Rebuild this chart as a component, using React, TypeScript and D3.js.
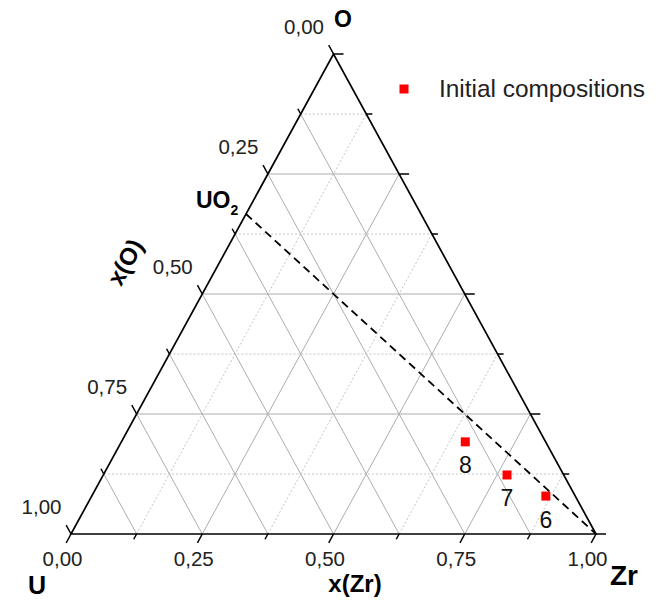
import React from "react";
import * as d3 from "d3";

// Ternary composition data (x(Zr), x(O)) for initial compositions
const pointLabels = ["6", "7", "8"];
const pointZr = [0.865, 0.769, 0.655];
const pointO = [0.079, 0.123, 0.192];

// Axis tick labels (as printed in the reference)
const tickValues = [0, 0.25, 0.5, 0.75, 1];
const bottomTickLabels = ["0,00", "0,25", "0,50", "0,75", "1,00"];
const leftTickLabels = ["1,00", "0,75", "0,50", "0,25", "0,00"]; // from U upward to O

// UO2 stoichiometric line: from (Zr=0, O=2/3) to Zr corner
const lineZr = [0, 1];
const lineO = [2 / 3, 0];

const W = 663;
const H = 600;

export default function App() {
  const xS = d3.scaleLinear().domain([0, 1]).range([71, 596]);
  const yS = d3.scaleLinear().domain([0, 1]).range([534, 54]);
  const px = (zr: number, o: number) => xS(zr + o / 2);
  const py = (o: number) => yS(o);

  const steps = d3.range(1, 8).map((k) => k / 8);
  const allSteps = d3.range(0, 9).map((k) => k / 8);

  const solid = { stroke: "#adadad", strokeWidth: 1, fill: "none" };
  const dotted = { stroke: "#c4c4c4", strokeWidth: 1, strokeDasharray: "2,2", fill: "none" };

  const grid: React.ReactNode[] = [];
  steps.forEach((t, i) => {
    const major = (i + 1) % 2 === 0;
    const st = major ? solid : dotted;
    // constant O
    grid.push(
      <line key={"o" + i} x1={px(0, t)} y1={py(t)} x2={px(1 - t, t)} y2={py(t)} {...st} />
    );
    // constant Zr
    grid.push(
      <line key={"z" + i} x1={px(t, 0)} y1={py(0)} x2={px(t, 1 - t)} y2={py(1 - t)} {...st} />
    );
    // constant U (all solid)
    grid.push(
      <line key={"u" + i} x1={px(1 - t, 0)} y1={py(0)} x2={px(0, 1 - t)} y2={py(1 - t)} {...solid} />
    );
  });

  // tick directions
  const ex = xS(0.5) - xS(0), ey = yS(0) - yS(1);
  const len = Math.hypot(ex, ey);
  const dBottom = [-ex / len, ey / len];
  const dLeft = [-ex / len, -ey / len];
  const dRight = [1, 0];

  const ticks: React.ReactNode[] = [];
  allSteps.forEach((t, i) => {
    const L = i % 2 === 0 ? 10 : 6;
    const bx = px(t, 0), by = py(0);
    ticks.push(<line key={"tb" + i} x1={bx} y1={by} x2={bx + dBottom[0] * L} y2={by + dBottom[1] * L} stroke="#000" strokeWidth={1.5} />);
    const lx = px(0, t), ly = py(t);
    ticks.push(<line key={"tl" + i} x1={lx} y1={ly} x2={lx + dLeft[0] * L} y2={ly + dLeft[1] * L} stroke="#000" strokeWidth={1.5} />);
    const rx = px(1 - t, t), ry = py(t);
    ticks.push(<line key={"tr" + i} x1={rx} y1={ry} x2={rx + dRight[0] * L} y2={ry + dRight[1] * L} stroke="#000" strokeWidth={1.5} />);
  });

  const tri = `M${px(0, 0)},${py(0)} L${px(1, 0)},${py(0)} L${px(0, 1)},${py(1)} Z`;
  const dashLine = d3.line<number>()
    .x((_, i) => px(lineZr[i], lineO[i]))
    .y((_, i) => py(lineO[i]))(lineZr);

  const font = "Arial, 'Liberation Sans', sans-serif";
  const angle = (-Math.atan2(ey, ex) * 180) / Math.PI;

  return (
    <svg width={W} height={H} style={{ position: "fixed", left: 0, top: 0, background: "#fff" }} fontFamily={font}>
      <rect x={0} y={0} width={W} height={H} fill="#fff" />
      {grid}
      <path d={dashLine || ""} fill="none" stroke="#000" strokeWidth={1.8} strokeDasharray="8,5" />
      <path d={tri} fill="none" stroke="#000" strokeWidth={1.7} strokeLinejoin="miter" />
      {ticks}
      {tickValues.map((t, i) => (
        <text key={"bl" + i} x={px(t, 0) - 8.5} y={py(0) + 32} textAnchor="middle" fontSize={20.5} fill="#222">
          {bottomTickLabels[i]}
        </text>
      ))}
      {tickValues.map((t, i) => (
        <text key={"ll" + i} x={px(0, t) - 9.5} y={py(t) - 20} textAnchor="end" fontSize={20.5} fill="#222">
          {leftTickLabels[i]}
        </text>
      ))}
      <text x={334} y={27} fontSize={23} fontWeight="bold">O</text>
      <text x={28} y={594} fontSize={25} fontWeight="bold">U</text>
      <text x={610} y={585} fontSize={28} fontWeight="bold">Zr</text>
      <text x={355} y={592} textAnchor="middle" fontSize={24} fontWeight="bold">x(Zr)</text>
      <text x={0} y={0} transform={`translate(125,262) rotate(${angle})`} textAnchor="middle" dominantBaseline="central" fontSize={24} fontWeight="bold">x(O)</text>
      <text x={196} y={208} fontSize={23} fontWeight="bold">
        UO<tspan fontSize={14} dy={7}>2</tspan>
      </text>
      {pointZr.map((z, i) => (
        <g key={"p" + i}>
          <rect x={px(z, pointO[i]) - 4.5} y={py(pointO[i]) - 4.5} width={9} height={9} fill="#ff0000" />
          <text x={px(z, pointO[i])} y={py(pointO[i]) + 31.5} textAnchor="middle" fontSize={23} fill="#111">
            {pointLabels[i]}
          </text>
        </g>
      ))}
      <rect x={399.5} y={84.5} width={9} height={9} fill="#ff0000" />
      <text x={439} y={97} fontSize={24.4} fill="#222">Initial compositions</text>
    </svg>
  );
}
